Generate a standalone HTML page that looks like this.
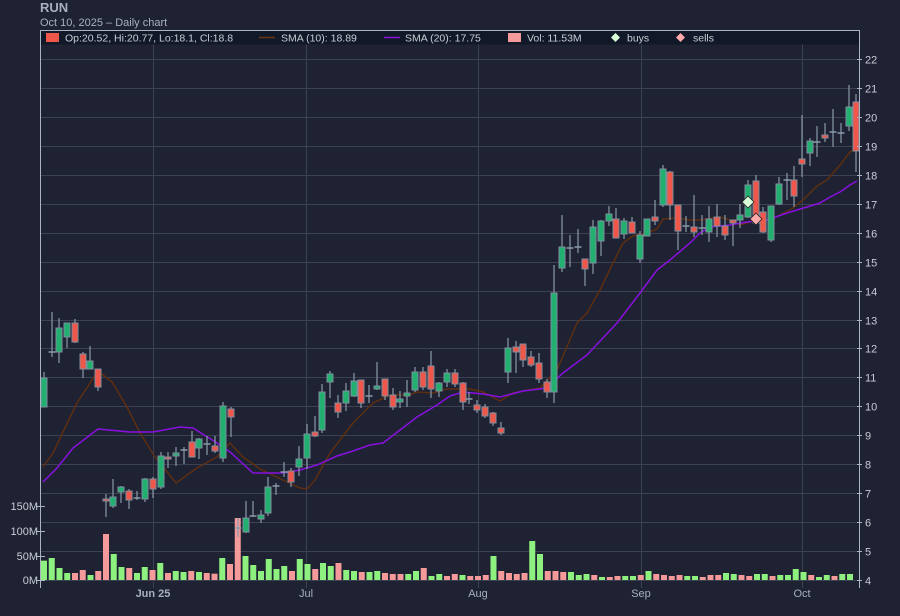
<!DOCTYPE html>
<html><head><meta charset="utf-8"><style>
html,body{margin:0;padding:0;background:#1e2233;width:900px;height:616px;overflow:hidden;font-family:"Liberation Sans",sans-serif}
</style></head><body>
<svg id="s" width="900" height="616" xmlns="http://www.w3.org/2000/svg" style="position:absolute;left:0;top:0">
<rect width="900" height="616" fill="#1e2233"/>
<text x="40" y="12" font-size="13" font-weight="bold" fill="#a8b0bc">RUN</text>
<text x="40" y="26" font-size="11" fill="#a8b0bc">Oct 10, 2025 – Daily chart</text>
<g id="grid"></g>
<g id="vol"></g>
<g id="sma"></g>
<g id="cdl"></g>
<g id="ax"></g>
<rect x="40.5" y="31" width="819" height="13.5" fill="#111827"/>
<line x1="40" y1="30.5" x2="860" y2="30.5" stroke="#aab4c4"/>
<line x1="40.5" y1="30" x2="40.5" y2="588" stroke="#aab4c4"/>
<line x1="859.5" y1="30" x2="859.5" y2="588" stroke="#aab4c4"/>
<g font-size="10.5" fill="#c8ccd4">
<rect x="46" y="33" width="13" height="9" fill="#f0564a"/>
<text x="65" y="41.5">Op:20.52, Hi:20.77, Lo:18.1, Cl:18.8</text>
<line x1="259" y1="37.5" x2="275" y2="37.5" stroke="#6b3512" stroke-width="1.5"/>
<text x="281" y="41.5">SMA (10): 18.89</text>
<line x1="384" y1="37.5" x2="400" y2="37.5" stroke="#8a10e0" stroke-width="1.5"/>
<text x="405" y="41.5">SMA (20): 17.75</text>
<rect x="508" y="33" width="13" height="9" fill="#f59a9a"/>
<text x="527" y="41.5">Vol: 11.53M</text>
<path d="M615.5,33 L620,37.5 L615.5,42 L611,37.5Z" fill="#d8ffd8"/>
<text x="627" y="41.5">buys</text>
<path d="M680.5,33 L685,37.5 L680.5,42 L676,37.5Z" fill="#ffaaaa"/>
<text x="693" y="41.5">sells</text>
</g>
</svg>
<script>
var NS="http://www.w3.org/2000/svg";
function el(p,t,a,txt){var e=document.createElementNS(NS,t);for(var k in a)e.setAttribute(k,a[k]);if(txt!=null)e.textContent=txt;document.getElementById(p).appendChild(e);return e;}
// grid
for(var p=4;p<=22;p++){var y=Math.round(580-(p-4)*28.944)+0.5;
 el('grid','line',{x1:40,x2:860,y1:y,y2:y,stroke:'#3c4252'});
 el('ax','line',{x1:857,x2:862,y1:y,y2:y,stroke:'#aab4c4'});
 el('ax','text',{x:865,y:y+4,'font-size':11,fill:'#c8ccd4'},p);}
[[153,'Jun 25',1],[306,'Jul',0],[478,'Aug',0],[641,'Sep',0],[802,'Oct',0]].forEach(function(d){
 el('grid','line',{x1:d[0]+.5,x2:d[0]+.5,y1:44,y2:588,stroke:'#3c4252'});
 el('ax','text',{x:d[0],y:597,'font-size':11,fill:'#a8b0bc','text-anchor':'middle','font-weight':d[2]?'bold':'normal'},d[1]);});
[[506,'150M'],[531,'100M'],[556,'50M'],[580,'0M']].forEach(function(d){
 el('ax','line',{x1:36,x2:45,y1:d[0]+.5,y2:d[0]+.5,stroke:'#aab4c4'});
 el('ax','text',{x:38,y:d[0]+4,'font-size':11,fill:'#c8ccd4','text-anchor':'end'},d[1]);});
// volume
var V="g122 g114 g144 g159 r159 r150 g165 r153 r42 g102 g141 r144 g159 g141 r150 g129 r159 g153 g156 r153 g156 r159 r161 g114 r132 r-6 g108 g135 g153 g117 g147 g138 r153 g117 g132 r147 g129 g138 r129 g150 g153 r156 g156 g153 r159 r162 r162 g162 g153 r144 g168 g162 r168 r162 g165 r168 r168 r165 r159 g108 r153 r159 r162 r159 g63 g102 r153 r153 r156 g156 g165 g162 r165 g171 r171 r168 g168 g168 r165 g153 r162 r165 r168 r165 g168 g168 r171 r165 r165 g159 g162 r165 r168 g162 g162 r168 g165 g165 g147 g156 r165 g171 g165 r168 g162 g162".split(' ');
V.splice(58,1);
V.forEach(function(v,i){var x=44+i*7.75;var top=520+(+v.slice(1))/3;
 el('vol','rect',{x:x-3,y:top,width:6,height:580-top,fill:v[0]=='g'?'#8ef07e':'#f59a9a'});});
// SMA lines
var s10=[[43,467],[53,453],[63,432],[77,403],[98,371],[112,382],[127,407],[140,433],[155,457],[176,483],[197,468],[217,457],[230,443],[243,457],[260,469],[283,480],[300,488],[307,489],[315,480],[330,453],[353,423],[373,403],[390,395],[410,395],[417,392],[433,393],[447,389],[470,389],[483,392],[500,401],[513,393],[540,388],[557,370],[577,323],[587,313],[600,290],[613,263],[623,243],[633,236],[647,233],[657,229],[663,219],[677,218],[690,220],[700,220],[720,217],[730,220],[740,225],[757,220],[770,220],[780,215],[793,208],[803,200],[817,186],[827,180],[840,165],[850,152],[857,148]];
var s20=[[43,482],[57,468],[73,448],[98,429],[130,432],[153,432],[180,427],[193,428],[217,443],[230,452],[253,473],[283,473],[300,470],[317,465],[337,456],[350,452],[370,445],[383,443],[400,430],[417,417],[437,405],[450,396],[463,392],[483,394],[500,397],[523,391],[547,388],[563,373],[587,355],[617,323],[640,293],[657,270],[670,260],[690,243],[700,233],[710,227],[730,225],[747,222],[767,220],[787,213],[807,207],[820,203],[830,197],[840,192],[850,185],[857,181]];
el('sma','polyline',{points:s10.join(' '),fill:'none',stroke:'#5e2e10','stroke-width':1.5});
el('sma','polyline',{points:s20.join(' '),fill:'none',stroke:'#8a10e0','stroke-width':1.5});
// candles: [x, bodyTop, bodyBot, wickTop, wickBot, type] g/r/d
var C=[[44,378,407,372,407,'g'],[52,352,352,312,357,'d'],[59,328,352,318,363,'g'],[67,323,337,323,348,'g'],[75,323,342,319,343,'r'],[83,354,369,352,378,'r'],[90,361,369,346,369,'g'],[98,369,387,369,391,'r'],[106,499,501,494,517,'r'],[113,497,506,479,508,'g'],[121,487,492,486,503,'g'],[129,491,500,489,509,'r'],[137,498,498,491,500,'d'],[145,479,499,478,502,'g'],[153,479,489,477,498,'r'],[161,456,487,452,489,'g'],[168,457,459,452,468,'r'],[176,453,456,447,466,'g'],[184,450,450,447,464,'d'],[192,442,457,431,457,'r'],[199,439,448,438,459,'g'],[207,444,444,436,455,'d'],[215,446,451,436,453,'r'],[223,406,458,402,462,'g'],[231,409,417,407,437,'r'],[238,528,528,518,537,'d'],[246,518,532,501,533,'g'],[253,516,516,501,517,'d'],[261,515,519,510,523,'g'],[268,487,513,477,516,'g'],[276,486,486,483,495,'d'],[284,472,472,462,477,'d'],[291,471,482,468,487,'r'],[299,459,467,446,476,'g'],[307,434,458,424,469,'g'],[315,432,436,416,437,'r'],[322,392,430,384,433,'g'],[330,374,382,371,398,'g'],[338,403,412,395,418,'r'],[346,391,403,383,411,'g'],[354,381,396,373,397,'g'],[361,380,403,380,408,'r'],[369,396,396,385,403,'d'],[377,386,389,362,390,'g'],[385,379,396,379,400,'r'],[393,395,407,388,410,'r'],[400,399,402,391,408,'g'],[407,393,396,380,407,'g'],[415,372,390,367,392,'g'],[423,372,387,367,390,'r'],[431,366,389,351,398,'r'],[439,383,391,382,397,'g'],[447,373,382,369,387,'g'],[455,373,384,369,387,'r'],[463,383,402,382,410,'r'],[469,399,399,392,404,'d'],[477,405,410,400,413,'r'],[485,407,416,404,418,'r'],[493,413,423,412,426,'r'],[501,428,433,422,435,'r'],[508,348,372,338,383,'g'],[516,347,352,341,373,'r'],[523,344,360,344,367,'r'],[531,357,365,351,367,'r'],[539,363,379,353,383,'r'],[547,382,392,379,398,'r'],[554,293,392,265,403,'g'],[562,247,268,215,272,'g'],[570,248,248,235,267,'d'],[578,247,247,229,253,'d'],[585,259,269,259,286,'r'],[593,227,263,220,274,'g'],[601,221,241,220,256,'g'],[609,214,221,206,226,'g'],[616,219,238,208,238,'r'],[624,221,234,218,239,'g'],[632,222,233,217,233,'r'],[640,235,259,231,263,'g'],[647,219,236,219,236,'g'],[655,217,221,200,225,'r'],[663,169,205,165,207,'g'],[670,172,205,171,220,'r'],[678,205,231,205,250,'r'],[686,226,226,216,232,'d'],[694,227,232,195,237,'r'],[702,228,228,215,235,'d'],[709,219,232,206,242,'g'],[717,217,226,204,237,'r'],[725,226,235,215,240,'r'],[733,220,223,220,246,'r'],[740,215,220,204,228,'g'],[748,185,217,180,218,'g'],[756,181,223,175,223,'r'],[763,212,232,207,233,'r'],[771,206,240,206,242,'g'],[779,184,204,177,205,'g'],[787,180,180,173,200,'d'],[794,180,196,166,207,'r'],[802,159,164,115,177,'r'],[810,141,153,138,166,'g'],[817,142,142,126,157,'d'],[825,135,138,123,142,'r'],[833,132,132,109,147,'d'],[841,133,133,123,143,'d'],[849,107,126,85,131,'g'],[856,102,151,94,172,'r']];
C.forEach(function(c){var x=c[0];
 el('cdl','line',{x1:x,x2:x,y1:c[3],y2:c[4],stroke:'#8a9aaa','stroke-width':1.2});
 if(c[5]=='d'){el('cdl','line',{x1:x-3.5,x2:x+3.5,y1:c[1],y2:c[1],stroke:'#8a9aaa','stroke-width':1.5});}
 else{var h=Math.max(c[2]-c[1],2);el('cdl','rect',{x:x-3,y:c[1],width:6,height:h,fill:c[5]=='g'?'#22b070':'#f0564a',stroke:'#7f8e9e','stroke-width':1});}
});
el('cdl','path',{d:'M748,196 L754,202 L748,208 L742,202Z',fill:'#d8ffd8',stroke:'#222',"stroke-width":0.8});
el('cdl','path',{d:'M756,213 L762,219 L756,225 L750,219Z',fill:'#ffaaaa',stroke:'#222',"stroke-width":0.8});
</script>
</body></html>
